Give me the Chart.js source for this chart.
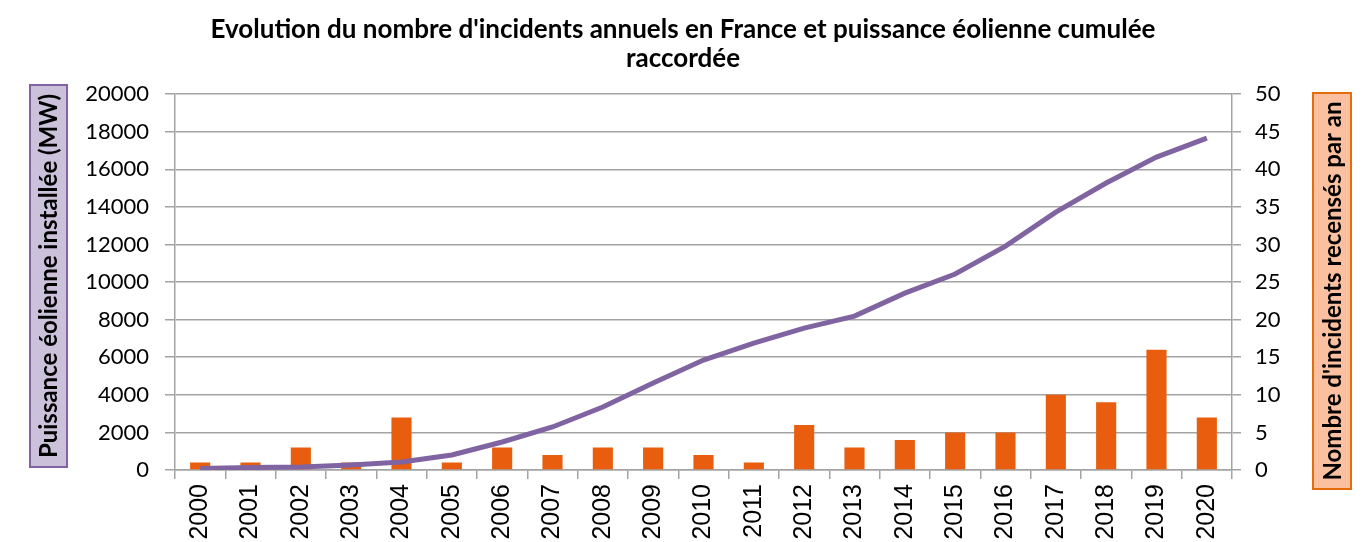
<!DOCTYPE html>
<html>
<head>
<meta charset="utf-8">
<script src="https://cdn.jsdelivr.net/npm/chart.js@4"></script>
<style>
  html, body { margin: 0; padding: 0; background: #fff; }
  #wrap { width: 1366px; height: 542px; }
</style>
</head>
<body>
<div id="wrap"><canvas id="windChart" width="1366" height="542"></canvas></div>
<script>
const years = ["2000", "2001", "2002", "2003", "2004", "2005", "2006", "2007", "2008", "2009", "2010",
  "2011", "2012", "2013", "2014", "2015", "2016", "2017", "2018", "2019", "2020"];

// puissance éolienne cumulée (MW)
const puissance = [80, 130, 160, 270, 425, 800, 1490, 2290, 3350, 4630, 5850,
  6750, 7550, 8190, 9410, 10430, 11910, 13720, 15270, 16650, 17660];

// nombre d'incidents par an
const incidents = [1, 1, 3, 1, 7, 1, 3, 2, 3, 3, 2,
  1, 6, 3, 4, 5, 5, 10, 9, 16, 7];

const titleLines = ["Evolution du nombre d'incidents annuels en France et puissance éolienne cumulée", "raccordée"];
const leftTitle = "Puissance éolienne installée (MW)";
const rightTitle = "Nombre d'incidents recensés par an";

const gridColor = "#a3a3a3";

// boxes around the two axis titles
const axisBoxes = {
  id: "axisBoxes",
  afterDraw(chart) {
    const c = chart.ctx;
    const boxes = [
      { text: leftTitle, x: 30, w: 37, top: 85, bottom: 467, fill: "#ccc1da", stroke: "#8064a2" },
      { text: rightTitle, x: 1313, w: 38, top: 93, bottom: 489, fill: "#fac09f", stroke: "#e46c0a" },
    ];
    boxes.forEach((b) => {
      c.save();
      c.fillStyle = b.fill;
      c.strokeStyle = b.stroke;
      c.lineWidth = 2;
      c.fillRect(b.x, b.top, b.w, b.bottom - b.top);
      c.strokeRect(b.x, b.top, b.w, b.bottom - b.top);
      c.translate(b.x + b.w / 2, (b.top + b.bottom) / 2);
      c.rotate(-Math.PI / 2);
      c.fillStyle = "#000";
      c.font = "bold 24px Lato";
      c.textAlign = "center";
      c.textBaseline = "middle";
      c.fillText(b.text, 0, 1);
      c.restore();
    });
  },
};

const ctx = document.getElementById("windChart").getContext("2d");

const chart = new Chart(ctx, {
  type: "bar",
  data: {
    labels: years,
    datasets: [
      {
        type: "line",
        label: "Puissance éolienne installée (MW)",
        data: puissance,
        yAxisID: "y",
        borderColor: "#8064a2",
        borderWidth: 5,
        pointRadius: 0,
        tension: 0,
        fill: false,
        order: 0,
      },
      {
        type: "bar",
        label: "Nombre d'incidents",
        data: incidents,
        yAxisID: "y2",
        backgroundColor: "#e85e0e",
        categoryPercentage: 1,
        barPercentage: 0.4,
        order: 1,
      },
    ],
  },
  options: {
    responsive: false,
    animation: false,
    layout: { padding: 0 },
    plugins: {
      legend: { display: false },
      tooltip: { enabled: false },
      title: {
        display: true,
        text: titleLines,
        color: "#000",
        font: { family: "Lato", size: 26, weight: "bold", lineHeight: 1.08 },
        padding: { top: 16, bottom: 22 },
      },
    },
    scales: {
      x: {
        grid: {
          display: true,
          drawOnChartArea: false,
          color: gridColor,
          lineWidth: 1.5,
          tickLength: 9,
          offset: true,
        },
        border: { color: gridColor, width: 1.5 },
        ticks: {
          color: "#000",
          font: { family: "Liberation Sans", size: 25 },
          maxRotation: 90,
          minRotation: 90,
          padding: 5,
          autoSkip: false,
        },
        afterFit(scale) { scale.height = 72; },
      },
      y: {
        position: "left",
        min: 0,
        max: 20000,
        ticks: {
          stepSize: 2000,
          color: "#000",
          font: { family: "Lato", size: 22 },
          padding: 16,
          callback: (v) => String(v),
        },
        grid: { color: gridColor, lineWidth: 1.5, tickLength: 10 },
        border: { color: gridColor, width: 1.5 },
        afterFit(scale) { scale.width = 175; },
      },
      y2: {
        position: "right",
        min: 0,
        max: 50,
        ticks: {
          stepSize: 5,
          color: "#000",
          font: { family: "Lato", size: 22 },
          padding: 14,
        },
        grid: { drawOnChartArea: false, color: gridColor, lineWidth: 1.5, tickLength: 9 },
        border: { color: gridColor, width: 1.5 },
        afterFit(scale) { scale.width = 134; },
      },
    },
  },
  plugins: [axisBoxes],
});
</script>
</body>
</html>
